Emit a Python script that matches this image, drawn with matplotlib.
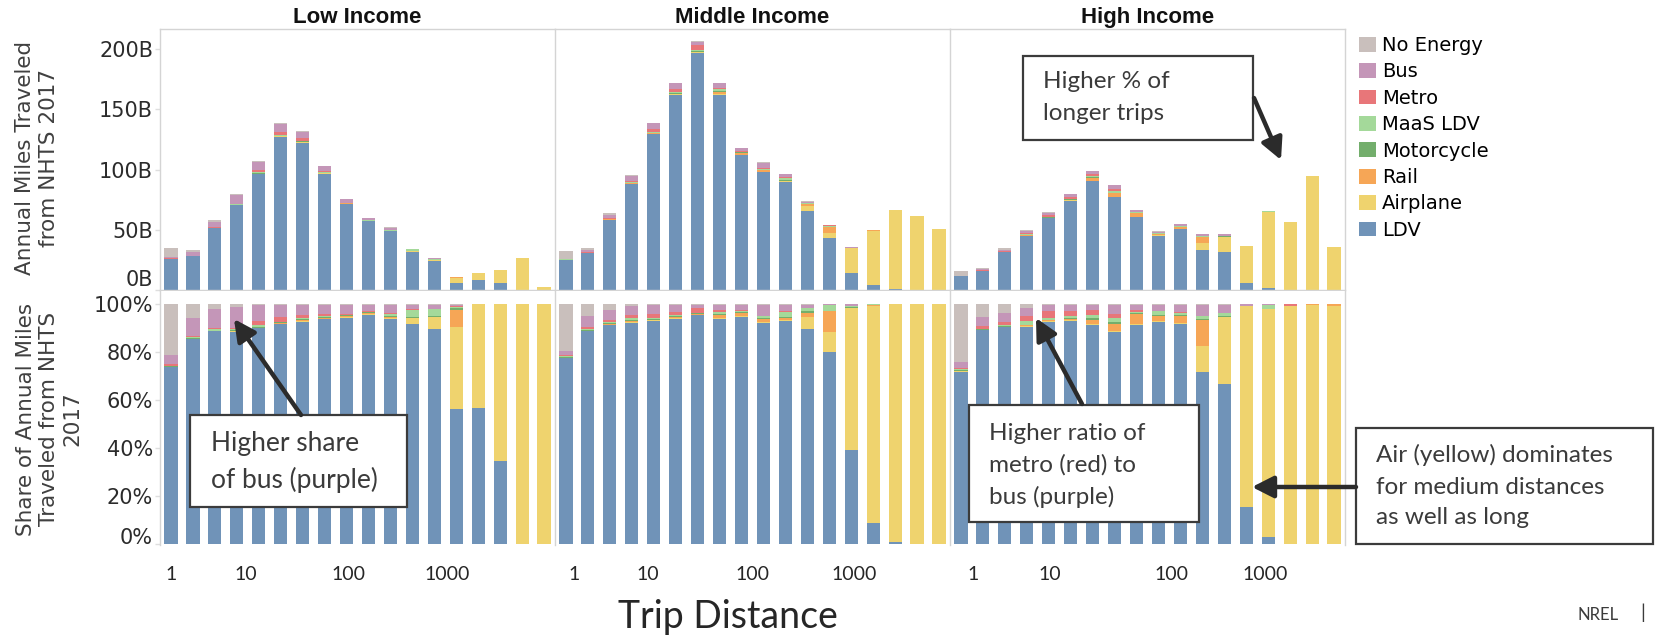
import matplotlib
matplotlib.use('Agg')
import matplotlib.pyplot as plt
from matplotlib.patches import Patch, Rectangle, FancyArrowPatch
import numpy as np

# ---- data -------------------------------------------------------------
modes = ['No Energy', 'Bus', 'Metro', 'MaaS LDV', 'Motorcycle', 'Rail', 'Airplane', 'LDV']
mode_colors = ['#c9bfbc', '#c496b8', '#e87679', '#a4d99a', '#73ae6c', '#f6a656', '#efd36e', '#7093b8']

incomes = ['Low Income', 'Middle Income', 'High Income']
dist_labels = ['1', '10', '100', '1000']

# annual miles (billions) per trip-distance bin
low_total = [35.0, 33.0, 57.8, 79.5, 107.0, 138.7, 131.8, 103.0, 75.7, 59.7, 52.0, 34.4, 26.4, 10.7, 14.3, 16.2, 26.4, 2.8]
mid_total = [32.4, 34.6, 63.7, 95.2, 139.0, 172.2, 206.5, 172.2, 118.3, 106.0, 96.3, 73.6, 53.7, 35.4, 49.8, 66.4, 61.5, 50.4]
high_total = [15.8, 18.0, 34.6, 49.8, 64.5, 79.7, 99.1, 87.5, 66.4, 48.7, 54.8, 46.8, 46.8, 36.8, 65.6, 56.8, 94.7, 35.7]

# share of miles (%) by mode per bin
low_share = {
    'LDV':        [73.8, 85.5, 88.7, 88.5, 90.1, 91.8, 92.6, 93.8, 94.5, 95.6, 93.8, 91.9, 89.9, 56.2, 56.6, 34.5, 0, 0],
    'Airplane':   [0, 0, 0, 0.2, 0.2, 0.2, 0.5, 0.3, 0.3, 0.4, 0.5, 2.3, 4.7, 34.2, 43.4, 65.5, 100, 100],
    'Rail':       [0, 0, 0, 0.2, 0, 0.2, 0.4, 0.4, 0.3, 0.4, 0.4, 0.2, 0.3, 7.1, 0, 0, 0, 0],
    'Motorcycle': [0.3, 0.5, 0.4, 0.4, 0.3, 0.3, 0.3, 0.2, 0.3, 0.3, 0.3, 0.2, 0.3, 1.0, 0, 0, 0, 0],
    'MaaS LDV':   [0.3, 0.3, 0.5, 0.4, 1.0, 0.3, 0.4, 0.3, 0.3, 0.2, 1.2, 3.2, 2.8, 0.5, 0, 0, 0, 0],
    'Metro':      [0.6, 0.5, 0.4, 0.5, 1.3, 1.9, 1.3, 1.1, 0.3, 0.2, 0.2, 0.1, 0.1, 0.3, 0, 0, 0, 0],
    'Bus':        [3.8, 7.6, 7.9, 8.7, 6.7, 5.0, 4.2, 3.6, 3.6, 2.5, 3.2, 1.9, 1.7, 0.5, 0, 0, 0, 0],
    'No Energy':  [21.2, 5.6, 2.1, 1.1, 0.4, 0.3, 0.3, 0.3, 0.4, 0.4, 0.4, 0.2, 0.2, 0.2, 0, 0, 0, 0],
}
mid_share = {
    'LDV':        [77.5, 89.0, 91.3, 92.3, 93.1, 94.1, 95.5, 94.1, 94.8, 92.3, 93.0, 89.7, 80.3, 39.3, 8.6, 0.8, 0, 0],
    'Airplane':   [0, 0, 0.3, 0.4, 0.3, 0.3, 0.2, 0.4, 0.3, 0.3, 0.6, 5.1, 8.3, 59.2, 90.6, 99.2, 100, 100],
    'Rail':       [0, 0, 0.4, 0.4, 0.3, 0.3, 0.1, 1.1, 1.2, 1.2, 0.6, 1.8, 8.6, 0, 0.4, 0, 0, 0],
    'Motorcycle': [0.5, 0.4, 0.3, 0.3, 0.4, 0.3, 0.5, 0.4, 0.4, 0.6, 0.7, 0.5, 0.2, 0.3, 0, 0, 0, 0],
    'MaaS LDV':   [0.3, 0.3, 0.4, 0.8, 0.4, 0.4, 0.3, 0.8, 0.5, 0.6, 2.0, 1.4, 2.3, 0.4, 0.4, 0, 0, 0],
    'Metro':      [0.4, 1.0, 0.9, 1.2, 1.5, 1.4, 1.9, 0.7, 0.4, 0.3, 0.2, 0.2, 0.1, 0, 0, 0, 0, 0],
    'Bus':        [1.8, 4.5, 3.9, 3.8, 3.7, 2.9, 1.2, 2.2, 2.2, 4.3, 2.6, 1.1, 0.2, 0.8, 0, 0, 0, 0],
    'No Energy':  [19.5, 4.8, 2.5, 0.8, 0.3, 0.3, 0.3, 0.3, 0.2, 0.4, 0.3, 0.2, 0, 0, 0, 0, 0, 0],
}
high_share = {
    'LDV':        [72.0, 89.2, 90.6, 90.5, 92.7, 93.1, 91.3, 88.3, 91.3, 92.7, 92.0, 71.8, 66.9, 15.4, 2.8, 0, 0, 0],
    'Airplane':   [0.1, 0, 0, 0.4, 0.3, 0.3, 0.4, 0.4, 0.4, 0.3, 0.4, 10.8, 27.9, 84.1, 95.4, 99.5, 99.8, 99.5],
    'Rail':       [0.1, 0, 0, 0.4, 0.3, 0.5, 2.0, 3.0, 4.1, 2.2, 2.6, 11.0, 0, 0, 0, 0, 0.2, 0.5],
    'Motorcycle': [0.5, 0.4, 0.4, 0.3, 0.4, 0.6, 0.8, 0.8, 0.5, 0.5, 0.5, 0.3, 0.4, 0, 0, 0, 0, 0],
    'MaaS LDV':   [0.5, 0.3, 0.4, 1.6, 0.5, 0.6, 1.0, 1.9, 0.7, 1.4, 1.1, 1.2, 1.1, 0, 1.4, 0, 0, 0],
    'Metro':      [0.4, 0.9, 1.1, 2.1, 3.0, 2.0, 2.0, 1.4, 0.5, 0.3, 0.3, 0.2, 0, 0, 0, 0.5, 0, 0],
    'Bus':        [2.3, 4.1, 4.1, 3.3, 2.5, 2.6, 2.2, 3.8, 2.1, 2.3, 2.7, 4.5, 3.5, 0.5, 0.4, 0, 0, 0],
    'No Energy':  [24.1, 5.1, 3.4, 1.4, 0.3, 0.3, 0.3, 0.4, 0.4, 0.3, 0.4, 0.2, 0.2, 0, 0, 0, 0, 0],
}

totals = [low_total, mid_total, high_total]
shares = [low_share, mid_share, high_share]

# ---- layout (pixels of the 1655x640 canvas) ----------------------------
W, H = 1655, 640
def fx(px):
    return px / W
def fy(py):
    return 1 - py / H

panel_left = [160, 555, 950]
panel_w = 395
# the distance labels are hand placed on the slide, not on a real log axis
tick_pos = [[0.0, 3.4, 8.1, 12.6],
            [0.39, 3.72, 8.52, 13.13],
            [0.55, 4.06, 9.61, 13.88]]

SPINE = '#d4d4d4'
TXT = '#2b2b2b'
ANN = '#3b3b3b'

fig = plt.figure(figsize=(W / 100, H / 100), dpi=100)

x = np.arange(len(low_total))
color_of = dict(zip(modes, mode_colors))

for j in range(3):
    ax_t = fig.add_axes([fx(panel_left[j]), fy(290), panel_w / W, 261 / H])
    ax_b = fig.add_axes([fx(panel_left[j]), fy(545), panel_w / W, 254 / H])

    tot = np.array(totals[j])
    sh = {m: np.array(v, dtype=float) for m, v in shares[j].items()}
    ssum = sum(sh.values())

    bt = np.zeros(len(x))
    bp = np.zeros(len(x))
    for m in modes[::-1]:
        frac = sh[m] / ssum
        ax_t.bar(x, tot * frac, 0.6, bottom=bt, color=color_of[m], linewidth=0)
        ax_b.bar(x, frac * 100, 0.6, bottom=bp, color=color_of[m], linewidth=0)
        bt += tot * frac
        bp += frac * 100

    ax_t.set_xlim(-0.5, 17.5)
    ax_b.set_xlim(-0.5, 17.5)
    ax_t.set_ylim(0, 216.8)
    ax_b.set_ylim(-0.4, 105.6)

    for ax in (ax_t, ax_b):
        for s in ax.spines.values():
            s.set_color(SPINE)
            s.set_linewidth(1)
        ax.spines['right'].set_visible(j == 2)
    ax_b.spines['top'].set_visible(False)
    ax_b.spines['bottom'].set_visible(False)

    ax_t.set_xticks([])
    ax_b.set_xticks(tick_pos[j], dist_labels)
    ax_b.tick_params(axis='x', length=0, pad=15, labelsize=14, labelcolor='#262626')
    for lab in ax_b.get_xticklabels():
        lab.set_fontfamily('Lato')

    if j == 0:
        ax_t.set_yticks([0, 50, 100, 150, 200], ['0B', '50B', '100B', '150B', '200B'])
        ax_b.set_yticks([0, 20, 40, 60, 80, 100], ['0%', '20%', '40%', '60%', '80%', '100%'])
        for ax in (ax_t, ax_b):
            ax.tick_params(axis='y', length=3.5, width=1, color='#dedede', pad=1.5,
                           labelsize=15, labelcolor=TXT)
        ax_t.get_yticklabels()[0].set_va('bottom')
        ax_b.get_yticklabels()[0].set_va('baseline')
    else:
        ax_t.set_yticks([])
        ax_b.set_yticks([])

    ax_t.set_title(incomes[j], fontsize=16, fontweight='bold', family='Liberation Sans',
                   color='#111111', pad=4.5)

# axis titles
fig.text(fx(37), fy(158), 'Annual Miles Traveled\nfrom NHTS 2017', rotation=90,
         ha='center', va='center', multialignment='center', fontsize=15.5, color='#404040')
fig.text(fx(49), fy(419), 'Share of Annual Miles\nTraveled from NHTS\n2017', rotation=90,
         ha='center', va='center', multialignment='center', fontsize=15.5, color='#404040')
fig.text(fx(728), fy(617), 'Trip Distance', ha='center', va='center', fontsize=27,
         family='Lato', color='#262626')
fig.text(fx(1598), fy(615), 'NREL', ha='center', va='center', fontsize=12, family='Lato', color=ANN)
fig.text(fx(1643), fy(613), '|', ha='center', va='center', fontsize=14, family='Lato', color=ANN)

# legend
handles = [Patch(facecolor=c, edgecolor='none', label=m) for m, c in zip(modes, mode_colors)]
fig.legend(handles=handles, loc='upper left', bbox_to_anchor=(fx(1359), fy(36)),
           frameon=False, fontsize=14, handlelength=0.85, handleheight=0.8,
           handletextpad=0.35, labelspacing=0.38, borderpad=0, borderaxespad=0)

# slide call-outs
boxes = [
    ((190, 415, 407, 507), ['Higher share', 'of bus (purple)'], [443, 480], 211, 19),
    ((969, 405, 1199, 522), ['Higher ratio of', 'metro (red) to', 'bus (purple)'], [433, 465, 497], 989, 17.5),
    ((1023, 56, 1253, 140), ['Higher % of', 'longer trips'], [82, 113], 1043, 17.5),
    ((1356, 428, 1653, 544), ['Air (yellow) dominates', 'for medium distances', 'as well as long'],
     [455, 487, 518], 1376, 17.5),
]
for (x0, y0, x1, y1), lines, ys, tx, fs in boxes:
    fig.add_artist(Rectangle((fx(x0), fy(y1)), fx(x1) - fx(x0), fy(y0) - fy(y1),
                             transform=fig.transFigure, facecolor='white',
                             edgecolor=ANN, linewidth=1.6, zorder=5))
    for line, yy in zip(lines, ys):
        fig.text(fx(tx), fy(yy), line, ha='left', va='center', fontsize=fs,
                 family='Lato', color=ANN, zorder=6)

arrows = [((301, 415), (234, 319)),
          ((1082, 404), (1036, 318)),
          ((1254, 98), (1281, 160)),
          ((1356, 487), (1252, 487))]
for (xa, ya), (xb, yb) in arrows:
    fig.add_artist(FancyArrowPatch((fx(xa), fy(ya)), (fx(xb), fy(yb)),
                                   transform=fig.transFigure,
                                   arrowstyle='-|>,head_length=0.65,head_width=0.33',
                                   mutation_scale=20, linewidth=3.2, color='#2b2b2b',
                                   shrinkA=0, shrinkB=0, zorder=7))

fig.savefig('out.png', dpi=100)
